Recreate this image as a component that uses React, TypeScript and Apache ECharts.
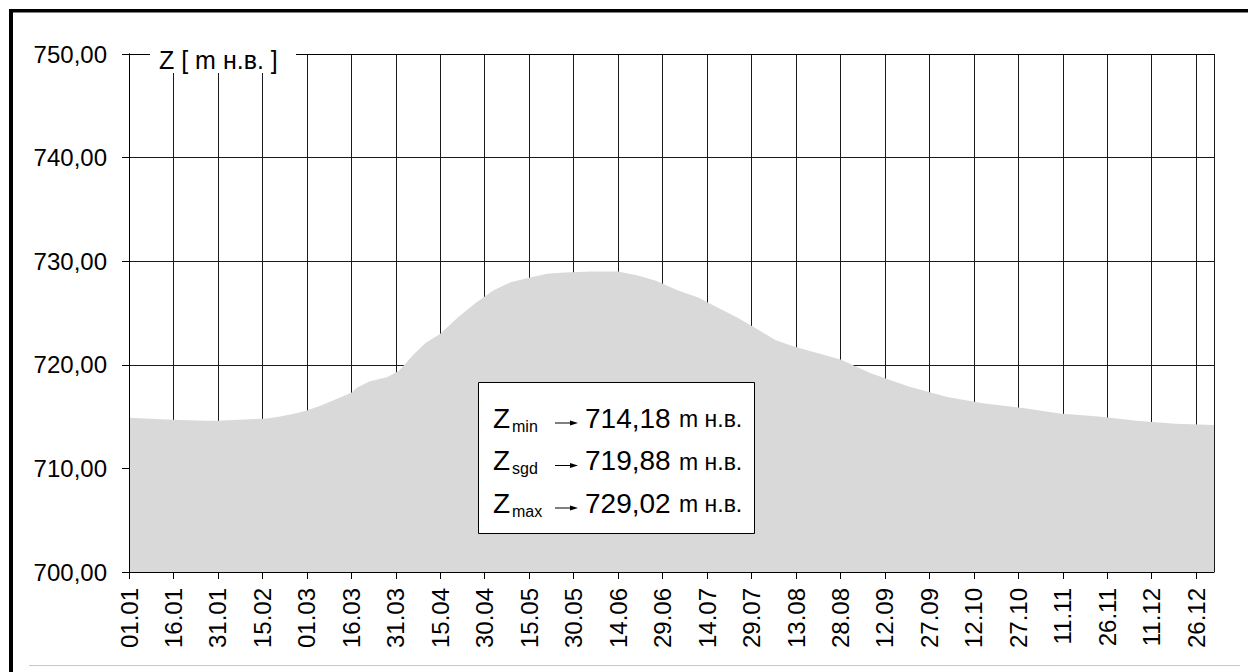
import React, { useEffect, useRef } from "react";
import * as echarts from "echarts";

// Day of year (0 = 01.01, leap year) and water level Z [m н.в.]
const DAYS = [0, 7, 15, 26, 30, 37, 46, 51, 56, 60, 65, 70, 75, 77, 81, 87, 91, 96, 100, 105, 111, 117, 123, 129, 135, 141, 147, 156, 165, 172, 178, 185, 192, 198, 205, 211, 218, 224, 230, 240, 250, 263, 276, 288, 302, 314, 327, 340, 353, 366];
const Z_VALUES = [714.9, 714.8, 714.7, 714.6, 714.6, 714.7, 714.8, 715.0, 715.3, 715.6, 716.1, 716.7, 717.3, 717.8, 718.4, 718.8, 719.4, 721.0, 722.1, 723.0, 724.6, 726.0, 727.2, 728.0, 728.4, 728.8, 728.9, 729.0, 729.0, 728.6, 728.1, 727.2, 726.5, 725.6, 724.6, 723.6, 722.4, 721.8, 721.3, 720.5, 719.2, 717.9, 716.9, 716.3, 715.8, 715.3, 715.0, 714.6, 714.3, 714.2];

const X_TICK_DAYS = [0, 15, 30, 45, 60, 75, 90, 105, 120, 135, 150, 165, 180, 195, 210, 225, 240, 255, 270, 285, 300, 315, 330, 345, 360];
const X_TICK_LABELS = ["01.01", "16.01", "31.01", "15.02", "01.03", "16.03", "31.03", "15.04", "30.04", "15.05", "30.05", "14.06", "29.06", "14.07", "29.07", "13.08", "28.08", "12.09", "27.09", "12.10", "27.10", "11.11", "26.11", "11.12", "26.12"];

const Y_MIN = 700;
const Y_MAX = 750;
const Y_STEP = 10;
const X_MIN = 0;
const X_MAX = 366;

const AXIS_TITLE = "Z [ m н.в. ]";
const STAT_NAMES = ["min", "sgd", "max"];
const STAT_VALUES = ["714,18", "719,88", "729,02"];
const UNIT = "m н.в.";

const FONT = "'Liberation Sans', Arial, Helvetica, sans-serif";

export default function App() {
  const ref = useRef<HTMLDivElement>(null);

  useEffect(() => {
    if (!ref.current) return;
    const chart = echarts.init(ref.current, undefined, { renderer: "svg" });

    const data = DAYS.map((d, i) => [d, Z_VALUES[i]]);

    const legendEls: any[] = [];
    STAT_NAMES.forEach((name, i) => {
      const cy = 418 + i * 42.5;
      legendEls.push({
        type: "text", z: 101, x: 493, y: cy,
        style: { text: "Z", font: `28px ${FONT}`, fill: "#000", textVerticalAlign: "middle" },
      });
      legendEls.push({
        type: "text", z: 101, x: 512, y: cy + 8,
        style: { text: name, font: `16px ${FONT}`, fill: "#000", textVerticalAlign: "middle" },
      });
      legendEls.push({
        type: "line", z: 101, shape: { x1: 555, y1: cy + 5, x2: 572, y2: cy + 5 },
        style: { stroke: "#000", lineWidth: 1 },
      });
      legendEls.push({
        type: "polygon", z: 101, shape: { points: [[570, cy + 2.5], [578, cy + 5], [570, cy + 7.5]] },
        style: { fill: "#000" },
      });
      legendEls.push({
        type: "text", z: 101, x: 585, y: cy,
        style: { text: STAT_VALUES[i], font: `28px ${FONT}`, fill: "#000", textVerticalAlign: "middle" },
      });
      legendEls.push({
        type: "text", z: 101, x: 679, y: cy + 1,
        style: { text: UNIT, font: `23px ${FONT}`, fill: "#000", textVerticalAlign: "middle" },
      });
    });

    const xLabel = (v: number) => {
      const idx = X_TICK_DAYS.indexOf(v);
      return idx >= 0 ? X_TICK_LABELS[idx] : "";
    };

    chart.setOption({
      animation: false,
      backgroundColor: "#fff",
      grid: { left: 129, top: 54, right: 34, bottom: 100, containLabel: false },
      xAxis: [
        {
          type: "value", min: X_MIN, max: X_MAX, interval: 15, position: "bottom", z: 5,
          axisLine: { show: true, lineStyle: { color: "#000", width: 1 } },
          axisTick: { show: true, length: 7, lineStyle: { color: "#000" }, customValues: X_TICK_DAYS },
          axisLabel: {
            show: true, rotate: 90, margin: 16, color: "#000", fontSize: 24, fontFamily: FONT,
            customValues: X_TICK_DAYS, formatter: xLabel,
          },
          splitLine: { show: false },
        },
        {
          type: "value", min: X_MIN, max: X_MAX, interval: 15, position: "top", z: 5,
          axisLine: { show: true, lineStyle: { color: "#000", width: 1 } },
          axisTick: { show: false }, axisLabel: { show: false }, splitLine: { show: false },
        },
        {
          type: "value", min: X_MIN, max: X_MAX, interval: 15, position: "bottom", z: 0,
          axisLine: { show: false }, axisTick: { show: false }, axisLabel: { show: false },
          splitLine: { show: true, lineStyle: { color: "#1a1a1a", width: 1 } },
        },
      ],
      yAxis: [
        {
          type: "value", min: Y_MIN, max: Y_MAX, interval: Y_STEP, position: "left", z: 5,
          axisLine: { show: true, lineStyle: { color: "#000", width: 1 } },
          axisTick: { show: true, length: 7, lineStyle: { color: "#000" } },
          axisLabel: {
            show: true, margin: 22, color: "#000", fontSize: 24, fontFamily: FONT,
            formatter: (v: number) => v.toFixed(2).replace(".", ","),
          },
          splitLine: { show: false },
        },
        {
          type: "value", min: Y_MIN, max: Y_MAX, interval: Y_STEP, position: "right", z: 5,
          axisLine: { show: true, lineStyle: { color: "#000", width: 1 } },
          axisTick: { show: false }, axisLabel: { show: false }, splitLine: { show: false },
        },
        {
          type: "value", min: Y_MIN, max: Y_MAX, interval: Y_STEP, position: "left", z: 0,
          axisLine: { show: false }, axisTick: { show: false }, axisLabel: { show: false },
          splitLine: { show: true, lineStyle: { color: "#1a1a1a", width: 1 } },
        },
      ],
      series: [
        {
          type: "line", xAxisIndex: 0, yAxisIndex: 0, z: 2,
          data, showSymbol: false, symbol: "none", smooth: false,
          lineStyle: { width: 0, color: "#d9d9d9" },
          areaStyle: { color: "#d9d9d9", opacity: 1 },
          silent: true,
        },
      ],
      graphic: [
        { type: "rect", z: 100, shape: { x: 9, y: 9, width: 4, height: 663 }, style: { fill: "#000" } },
        { type: "rect", z: 100, shape: { x: 9, y: 9, width: 1239, height: 3.5 }, style: { fill: "#000" } },
        { type: "line", z: 100, shape: { x1: 29, y1: 665.5, x2: 1240, y2: 665.5 }, style: { stroke: "#c8c8c8", lineWidth: 1 } },
        { type: "rect", z: 100, shape: { x: 150, y: 44, width: 146, height: 29 }, style: { fill: "#fff" } },
        {
          type: "text", z: 101, x: 159, y: 60,
          style: { text: AXIS_TITLE, font: `25px ${FONT}`, fill: "#000", textVerticalAlign: "middle" },
        },
        {
          type: "rect", z: 100, shape: { x: 478.5, y: 382.5, width: 276, height: 151 },
          style: { fill: "#fff", stroke: "#000", lineWidth: 1 },
        },
        ...legendEls,
      ],
    });

    return () => chart.dispose();
  }, []);

  return (
    <div
      ref={ref}
      style={{ position: "fixed", left: 0, top: 0, width: 1248, height: 672, background: "#fff" }}
    />
  );
}
